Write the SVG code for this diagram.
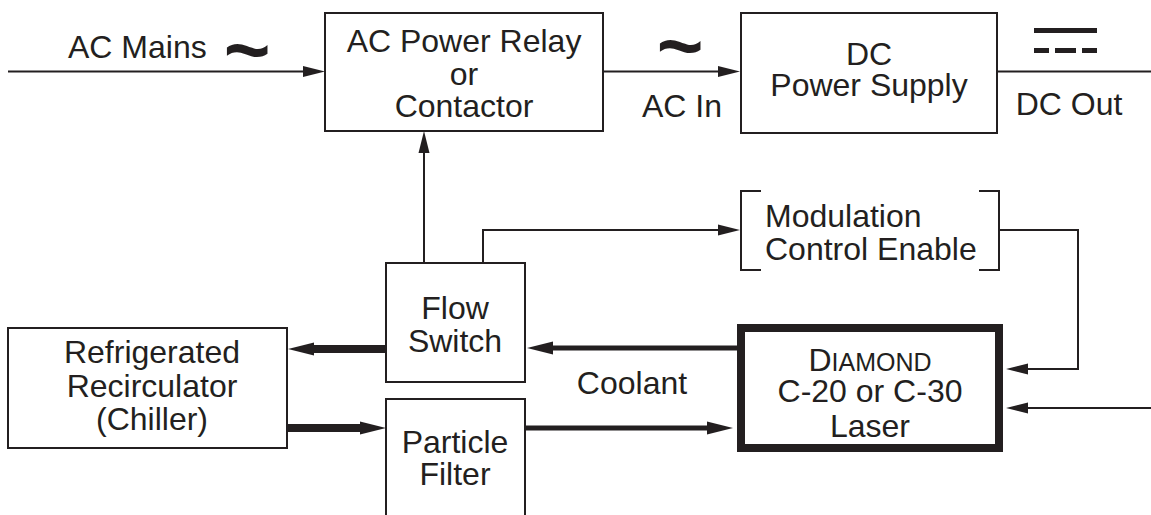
<svg xmlns="http://www.w3.org/2000/svg" width="1151" height="515" viewBox="0 0 1151 515">
<style>
text{font-family:"Liberation Sans",Arial,Helvetica,sans-serif;font-size:32px;fill:#231f20}
.c{text-anchor:middle}
.box{fill:#fff;stroke:#231f20;stroke-width:2}
.thin{fill:none;stroke:#231f20;stroke-width:2}
.thk{fill:none;stroke:#231f20;stroke-width:8}
.med{fill:none;stroke:#231f20;stroke-width:5}
.tl{font-size:80px;font-weight:bold}
.sc{font-size:25px}
</style>
<defs>
<marker id="at" markerUnits="userSpaceOnUse" markerWidth="24" markerHeight="12" refX="0" refY="6" orient="auto" overflow="visible"><path d="M0,0.5 L22,6 L0,11.5 z" fill="#231f20"/></marker>
<marker id="ak" markerUnits="userSpaceOnUse" markerWidth="28" markerHeight="14" refX="0" refY="7" orient="auto" overflow="visible"><path d="M0,0.5 L26,7 L0,13.5 z" fill="#231f20"/></marker>
</defs>
<g id="connectors">
<path class="thin" d="M8,71.5 H303" marker-end="url(#at)"/>
<path class="thin" d="M603,71.5 H718" marker-end="url(#at)"/>
<path class="thin" d="M997,71.5 H1151"/>
<path class="thin" d="M424,263 V153" marker-end="url(#at)"/>
<path class="thin" d="M483,263 V230 H718" marker-end="url(#at)"/>
<path class="thin" d="M999,230 H1078 V369 H1028" marker-end="url(#at)"/>
<path class="thin" d="M1151,408 H1028" marker-end="url(#at)"/>
<path class="med" d="M737,348 H553" marker-end="url(#ak)"/>
<path class="thk" d="M386,349 H314" marker-end="url(#ak)"/>
<path class="thk" d="M287,428 H360" marker-end="url(#ak)"/>
<path class="med" d="M525,428 H707" marker-end="url(#ak)"/>
</g>
<g id="ac-mains-label">
<text x="68" y="58">AC Mains</text>
<text class="tl c" x="247" y="77">~</text>
</g>
<g id="relay">
<rect class="box" x="325" y="13" width="278" height="118"/>
<text class="c" x="464" y="52">AC Power Relay</text>
<text class="c" x="464" y="85">or</text>
<text class="c" x="464" y="117">Contactor</text>
</g>
<g id="ac-in-label">
<text class="tl c" x="680" y="73">~</text>
<text class="c" x="682" y="117">AC In</text>
</g>
<g id="dc-supply">
<rect class="box" x="741" y="13" width="256" height="120"/>
<text class="c" x="869" y="65">DC</text>
<text class="c" x="869" y="96">Power Supply</text>
</g>
<g id="dc-out-label">
<rect x="1034" y="28" width="63" height="5" fill="#231f20"/>
<rect x="1034" y="48" width="15" height="5" fill="#231f20"/>
<rect x="1055" y="48" width="21" height="5" fill="#231f20"/>
<rect x="1082" y="48" width="15" height="5" fill="#231f20"/>
<text class="c" x="1069" y="115">DC Out</text>
</g>
<g id="modulation">
<path class="thin" d="M761,191 H741 V270 H761 M979,191 H999 V270 H979"/>
<text x="765" y="227">Modulation</text>
<text x="765" y="260">Control Enable</text>
</g>
<g id="flow-switch">
<rect class="box" x="386" y="263" width="139" height="119"/>
<text class="c" x="455" y="319">Flow</text>
<text class="c" x="455" y="352">Switch</text>
</g>
<g id="chiller">
<rect class="box" x="8" y="328" width="279" height="120"/>
<text class="c" x="152" y="363">Refrigerated</text>
<text class="c" x="152" y="397">Recirculator</text>
<text class="c" x="152" y="430">(Chiller)</text>
</g>
<g id="particle-filter">
<rect class="box" x="386" y="399" width="139" height="130"/>
<text class="c" x="455" y="453">Particle</text>
<text class="c" x="455" y="485">Filter</text>
</g>
<g id="coolant-label">
<text class="c" x="632" y="394">Coolant</text>
</g>
<g id="laser">
<rect x="741" y="328" width="258" height="120" fill="#fff" stroke="#231f20" stroke-width="8"/>
<text class="c" x="870" y="371">D<tspan class="sc">IAMOND</tspan></text>
<text class="c" x="870" y="402">C-20 or C-30</text>
<text class="c" x="870" y="437">Laser</text>
</g>
</svg>
